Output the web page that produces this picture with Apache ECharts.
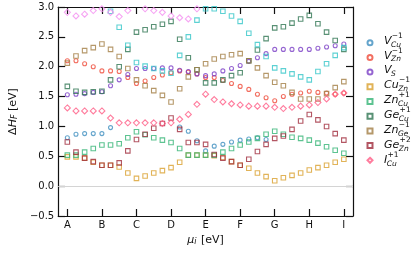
<!DOCTYPE html>
<html>
<head>
<meta charset="utf-8">
<script src="https://cdn.jsdelivr.net/npm/echarts@6/dist/echarts.min.js"></script>
<style>html,body{margin:0;padding:0;background:#fff}#c{width:415px;height:260px}</style>
</head>
<body>
<div id="c"></div>
<script>
// chemical-potential points A..I, 4 steps between letters (33 points)
const tickLabels = ['A','B','C','D','E','F','G','H','I'];
const stepsPerLabel = 4;

const V_Cu  = [0.81,0.87,0.88,0.88,0.88,0.98,null,null,null,null,null,null,null,0.99,0.92,0.76,0.59,0.67,0.70,0.74,0.77,0.79,0.81,0.78,null,null,null,null,null,null,null,null,null];
const V_Zn  = [2.10,2.10,2.05,2.00,1.93,1.93,1.92,1.82,1.72,1.76,1.82,1.86,1.90,1.93,1.91,1.88,1.82,1.82,1.77,1.72,1.67,1.62,1.54,1.48,1.43,1.50,1.54,1.56,1.59,1.57,1.56,1.54,1.56];
const V_S   = [1.53,1.54,1.55,1.57,1.58,1.68,1.78,1.87,1.97,1.97,1.97,1.98,1.98,1.94,1.92,1.88,1.85,1.88,1.93,1.97,2.02,2.09,2.15,2.22,2.29,2.29,2.29,2.29,2.29,2.31,2.33,2.35,2.38];
const Cu_Zn = [0.49,0.49,0.47,0.40,0.35,0.35,0.32,0.22,0.13,0.17,0.22,0.26,0.31,0.40,0.52,0.52,0.52,0.51,0.48,0.41,0.35,0.30,0.22,0.16,0.09,0.14,0.18,0.22,0.27,0.31,0.35,0.40,0.45];
const Zn_Cu = [0.52,0.52,0.57,0.63,0.69,0.69,0.71,0.81,0.91,0.86,0.81,0.77,0.73,0.63,0.52,0.52,0.52,0.52,0.57,0.63,0.69,0.74,0.80,0.87,0.92,0.87,0.82,0.80,0.77,0.72,0.66,0.60,0.55];
const Ge_Cu = [1.67,1.59,1.57,1.58,1.59,1.78,2.00,2.29,2.58,2.62,2.67,2.71,2.76,2.46,2.15,1.95,1.73,1.73,1.78,1.85,1.90,2.10,2.28,2.47,2.65,2.67,2.73,2.80,2.86,2.72,2.58,2.44,2.29];
const Zn_Ge = [2.06,2.18,2.27,2.32,2.38,2.29,2.17,1.97,1.78,1.68,1.60,1.52,1.41,1.63,1.83,1.95,2.05,2.13,2.17,2.20,2.22,2.10,1.98,1.85,1.74,1.68,1.57,1.46,1.46,1.46,1.55,1.65,1.75];
const Ge_Zn = [0.74,0.57,0.47,0.41,0.35,0.35,0.39,0.59,0.78,0.87,0.97,1.05,1.14,0.95,0.73,0.73,0.70,0.53,0.47,0.41,0.35,0.45,0.58,0.70,0.80,0.84,0.95,1.09,1.20,1.11,1.00,0.88,0.77];
const I_Cu  = [1.31,1.26,1.26,1.26,1.26,1.14,1.06,1.06,1.06,1.06,1.06,1.05,1.06,1.12,1.20,1.37,1.54,1.45,1.41,1.38,1.36,1.34,1.34,1.34,1.32,1.30,1.32,1.34,1.36,1.40,1.46,1.54,1.56];
const extraSq = [null,null,null,null,null,2.93,2.66,2.36,2.07,2.01,1.97,1.93,1.89,2.19,2.50,2.78,2.97,2.97,2.93,2.85,2.76,2.56,2.37,2.17,1.98,1.93,1.88,1.83,1.78,1.92,2.05,2.19,2.32];
const extraDi = [2.91,2.85,2.88,2.94,2.97,2.91,2.84,2.94,null,2.97,2.94,2.91,2.85,2.82,2.80,2.97,null,null,null,null,null,null,null,null,null,null,null,null,null,null,null,null,null];

const legendBase = ['V','V','V','Cu','Zn','Ge','Zn','Ge','I'];
const legendSub  = ['Cu','Zn','S','Zn','Cu','Cu','Ge','Zn','Cu'];
const legendSup  = ['−1','−1','','−1','+1','+1','−1','+2','+1'];

const defs = [
  {name:'V_Cu', d:V_Cu, c:'#3f8fbf', s:'circle', z:4},
  {name:'V_Zn', d:V_Zn, c:'#ef4b3a', s:'circle', z:4},
  {name:'V_S',  d:V_S,  c:'#7a3fc6', s:'circle', z:4},
  {name:'Cu_Zn',d:Cu_Zn,c:'#d9a02e', s:'rect', z:5},
  {name:'Zn_Cu',d:Zn_Cu,c:'#34b476', s:'rect', z:5},
  {name:'Ge_Cu',d:Ge_Cu,c:'#2f7652', s:'rect', z:5},
  {name:'Zn_Ge',d:Zn_Ge,c:'#a27e45', s:'rect', z:5},
  {name:'Ge_Zn',d:Ge_Zn,c:'#a02c3c', s:'rect', z:5},
  {name:'I_Cu', d:I_Cu, c:'#ff5c86', s:'diamond', z:6},
  {name:'extraSq', d:extraSq, c:'#35c6c8', s:'rect', z:5},
  {name:'extraDi', d:extraDi, c:'#f48ef0', s:'diamond', z:6}
];
const sizes = {circle:4, rect:4.5, diamond:6};

const series = defs.map((o, k) => ({
  type:'scatter', name:o.name, z:o.z,
  symbol:o.s, symbolSize:sizes[o.s],
  data:o.d.map((v,i)=> v==null?null:[i/stepsPerLabel, v]).filter(p=>p),
  itemStyle:{color:'rgba(255,255,255,0)', borderColor:o.c, borderWidth:1.1},
  emphasis:{disabled:true}
}));
series[0].markLine = {
  silent:true, symbol:['none','none'], z:1,
  lineStyle:{color:'#d4d4d4', width:1.2, type:'solid'},
  label:{show:false}, data:[{yAxis:0}]
};

const labelNames = defs.slice(0,9).map(o=>o.name);
const tickVals = tickLabels.map((t,i)=>i);
const xMin = -0.265, xMax = 8.265;
const fam = 'DejaVu Sans';

// legend label text (stacked sub/superscripts)
const legX = 384, legY0 = 40.8, legStep = 14.9;
const mctx = document.createElement('canvas').getContext('2d');
mctx.font = 'italic 11px "DejaVu Sans"';
const legendTexts = [];
legendBase.forEach((b, k) => {
  const w = mctx.measureText(b).width;
  const cy = legY0 + k*legStep;
  legendTexts.push({type:'text', x:legX, y:cy, silent:true,
    style:{text:b, font:'italic 11px "DejaVu Sans"', fill:'#111', verticalAlign:'middle', textVerticalAlign:'middle'}});
  legendTexts.push({type:'text', x:legX+w-0.5, y:cy+3.8, silent:true,
    style:{text:legendSub[k], font:'italic 7.5px "DejaVu Sans"', fill:'#111', verticalAlign:'middle', textVerticalAlign:'middle'}});
  if (legendSup[k]) legendTexts.push({type:'text', x:legX+w+0.3, y:cy-5.0, silent:true,
    style:{text:legendSup[k], font:'7.5px "DejaVu Sans"', fill:'#111', verticalAlign:'middle', textVerticalAlign:'middle'}});
});

const axLine = {show:true, onZero:false, lineStyle:{color:'#111', width:1.2}};
const chart = echarts.init(document.getElementById('c'), null, {renderer:'canvas'});
chart.setOption({
  animation:false,
  backgroundColor:'#fff',
  grid:{left:53, right:62, top:7, bottom:44},
  xAxis:[{
    type:'value', min:xMin, max:xMax, position:'bottom',
    axisLine:axLine,
    axisTick:{inside:true, length:7, customValues:tickVals, lineStyle:{color:'#111', width:1.2}},
    axisLabel:{customValues:tickVals, formatter:v=>tickLabels[Math.round(v)], color:'#111', fontSize:10, fontFamily:fam, margin:4},
    splitLine:{show:false},
    name:'{m|μ}{s|i} [eV]', nameLocation:'middle', nameGap:16,
    nameTextStyle:{color:'#111', fontSize:11, fontFamily:fam,
      rich:{m:{fontSize:11, fontStyle:'italic', fontFamily:fam, color:'#111'},
            s:{fontSize:8, fontStyle:'italic', fontFamily:fam, color:'#111', verticalAlign:'bottom', padding:[0,1,0,0]}}}
  },{
    type:'value', min:xMin, max:xMax, position:'top',
    axisLine:axLine,
    axisTick:{inside:true, length:7, customValues:tickVals, lineStyle:{color:'#111', width:1.2}},
    axisLabel:{show:false}, splitLine:{show:false}
  }],
  yAxis:[{
    type:'value', min:-0.5, max:3, interval:0.5, position:'left',
    axisLine:axLine,
    axisTick:{show:true, inside:true, length:7, lineStyle:{color:'#111', width:1.2}},
    axisLabel:{formatter:v=>v.toFixed(1).replace('-','−'), color:'#111', fontSize:10, fontFamily:fam, margin:4},
    splitLine:{show:false},
    name:'Δ{h|H}{s|F} [eV]', nameLocation:'middle', nameRotate:90, nameGap:33,
    nameTextStyle:{color:'#111', fontSize:11, fontFamily:fam,
      rich:{h:{fontSize:11, fontStyle:'italic', fontFamily:fam, color:'#111'},
            s:{fontSize:8, fontStyle:'italic', fontFamily:fam, color:'#111', verticalAlign:'bottom'}}}
  },{
    type:'value', min:-0.5, max:3, interval:0.5, position:'right',
    axisLine:axLine,
    axisTick:{show:true, inside:true, length:7, lineStyle:{color:'#111', width:1.2}},
    axisLabel:{show:false}, splitLine:{show:false}
  }],
  legend:{
    data:labelNames, orient:'vertical', left:366.5, top:39.2, padding:0,
    itemWidth:5, itemHeight:5, itemGap:7.7, selectedMode:false,
    formatter:function(){ return ''; },
    textStyle:{fontSize:1, padding:0}
  },
  graphic:legendTexts,
  series:series
});
</script>
</body>
</html>
